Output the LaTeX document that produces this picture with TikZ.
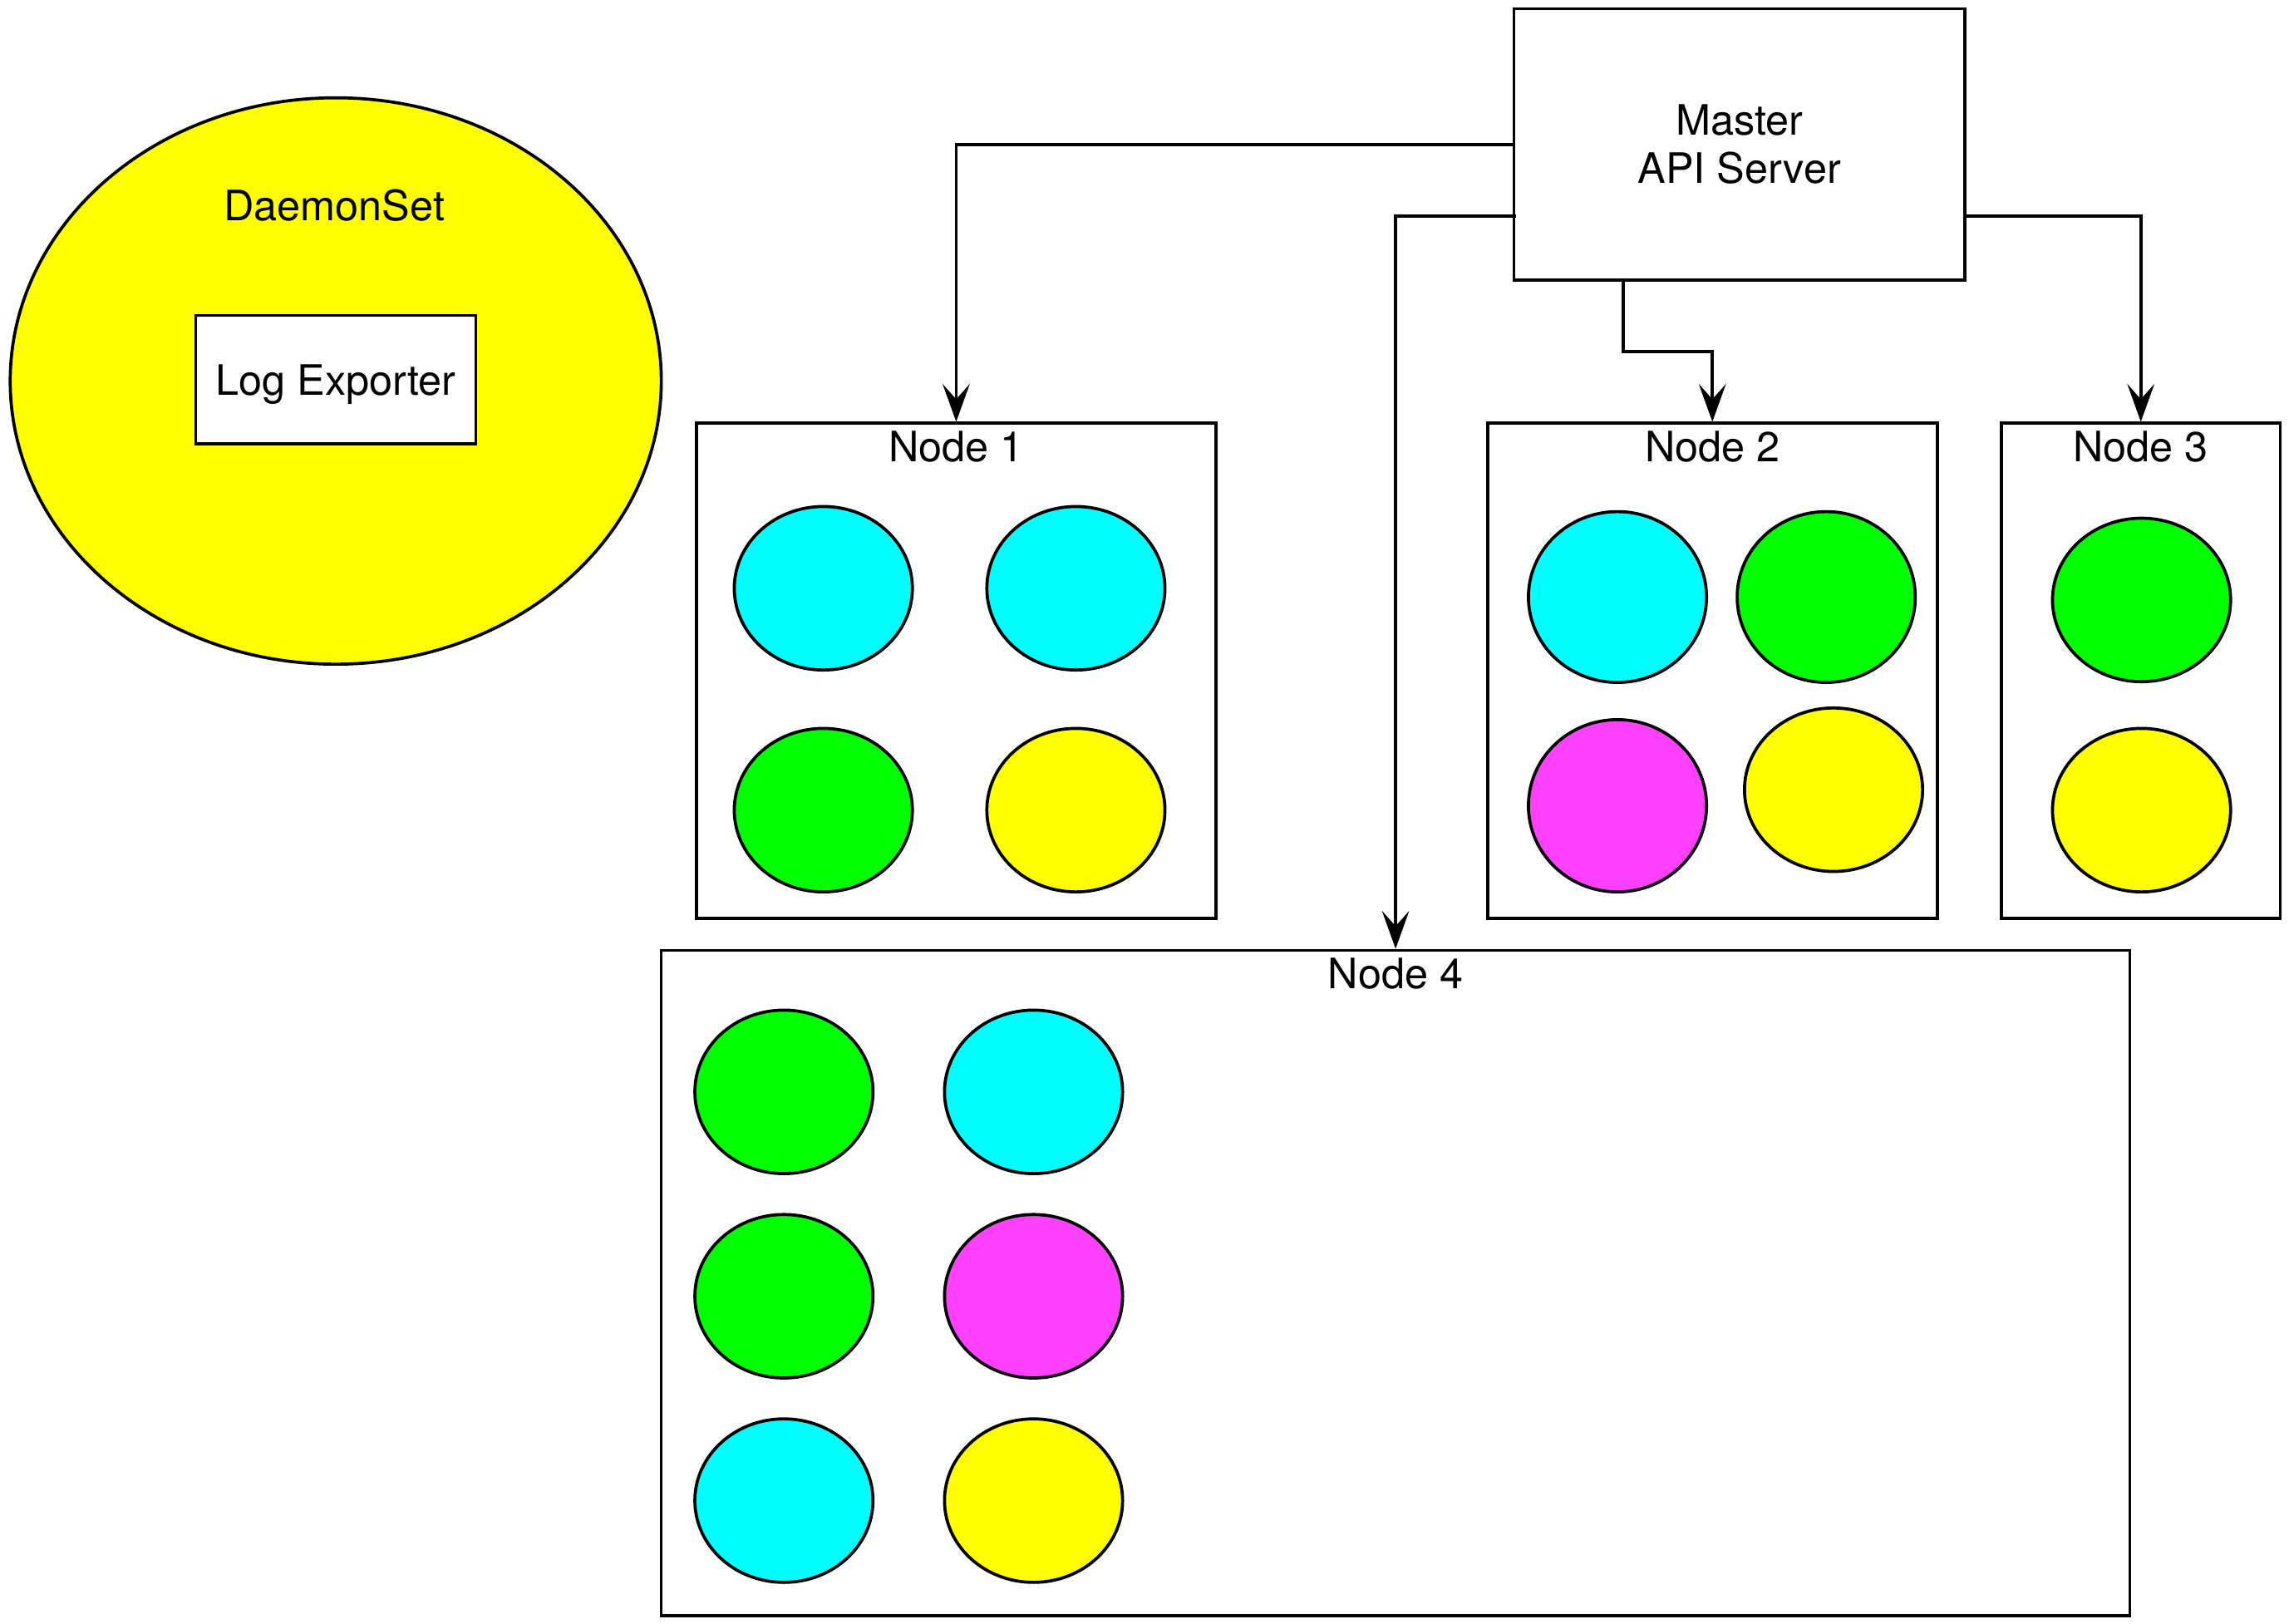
\documentclass[tikz,border=0pt]{standalone}
\usepackage{fontspec}
\setmainfont{TeX Gyre Heros}
\usetikzlibrary{shapes.geometric,arrows.meta}
\newcommand\pxu{0.0125cm}
\definecolor{podcyan}{HTML}{00FFFF}
\definecolor{podgreen}{HTML}{00FF00}
\definecolor{podmagenta}{HTML}{FF40FF}
\definecolor{podyellow}{HTML}{FFFF00}
\begin{document}
\begin{tikzpicture}[x=\pxu, y=-\pxu, line width=0.75pt,
  font=\fontsize{10.2}{11.7}\selectfont,
  box/.style={draw, rectangle, inner sep=0pt, fill=white},
  pod/.style={draw, ellipse, inner sep=0pt, minimum width=122*\pxu, minimum height=112*\pxu},
  conn/.style={-{Stealth[length=9.2pt,width=6.6pt,inset=3.7pt]}},
  nlabel/.style={inner sep=0pt}]
\useasboundingbox (0,0) rectangle (1568,1112.5);

% DaemonSet
\node[draw, ellipse, fill=podyellow, inner sep=0pt, minimum width=446*\pxu, minimum height=388*\pxu] (daemonset) at (230,261) {};
\node[nlabel] (dslabel) at (229,141) {DaemonSet};
\node[box, text depth=0pt, minimum width=192*\pxu, minimum height=88*\pxu] (logexp) at (230,260) {Log Exporter};

% Master
\node[box, minimum width=309*\pxu, minimum height=186*\pxu, align=center] (master) at (1191.5,99) {Master\\API Server};

% Worker nodes
\node[box, minimum width=356*\pxu, minimum height=339*\pxu] (node1) at (655,459.5) {};
\node[box, minimum width=308*\pxu, minimum height=339*\pxu] (node2) at (1173,459.5) {};
\node[box, minimum width=191*\pxu, minimum height=339*\pxu] (node3) at (1466.5,459.5) {};
\node[box, minimum width=1006*\pxu, minimum height=456*\pxu] (node4) at (956,879) {};

\node[nlabel] (n1label) at ([yshift=-6pt]node1.north) {Node 1};
\node[nlabel] (n2label) at ([yshift=-6pt]node2.north) {Node 2};
\node[nlabel] (n3label) at ([yshift=-6pt]node3.north) {Node 3};
\node[nlabel] (n4label) at ([yshift=-6pt]node4.north) {Node 4};

% Pods node 1
\node[pod, fill=podcyan] (p11) at (564,403) {};
\node[pod, fill=podcyan] (p12) at (737,403) {};
\node[pod, fill=podgreen] (p13) at (564,555) {};
\node[pod, fill=podyellow] (p14) at (737,555) {};

% Pods node 2
\node[pod, fill=podcyan, minimum height=117*\pxu] (p21) at (1108,409) {};
\node[pod, fill=podgreen, minimum height=117*\pxu] (p22) at (1251,409) {};
\node[pod, fill=podmagenta, minimum height=118*\pxu] (p23) at (1108,552) {};
\node[pod, fill=podyellow] (p24) at (1256,541) {};

% Pods node 3
\node[pod, fill=podgreen] (p31) at (1467,411) {};
\node[pod, fill=podyellow] (p32) at (1467,555) {};

% Pods node 4
\node[pod, fill=podgreen] (p41) at (537,748) {};
\node[pod, fill=podcyan] (p42) at (708,748) {};
\node[pod, fill=podgreen] (p43) at (537,888) {};
\node[pod, fill=podmagenta] (p44) at (708,888) {};
\node[pod, fill=podcyan] (p45) at (537,1028) {};
\node[pod, fill=podyellow] (p46) at (708,1028) {};

% Connectors
\coordinate (ylow) at (0,148);
\coordinate (k2) at (1112,241);
\draw[conn] (master.west) -| (node1.north);
\draw[conn] ([xshift=1pt]master.west |- ylow) -| (node4.north);
\draw[conn] (master.south -| k2) -- (k2) -| (node2.north);
\draw[conn] (master.east |- ylow) -| (node3.north);
\end{tikzpicture}
\end{document}
